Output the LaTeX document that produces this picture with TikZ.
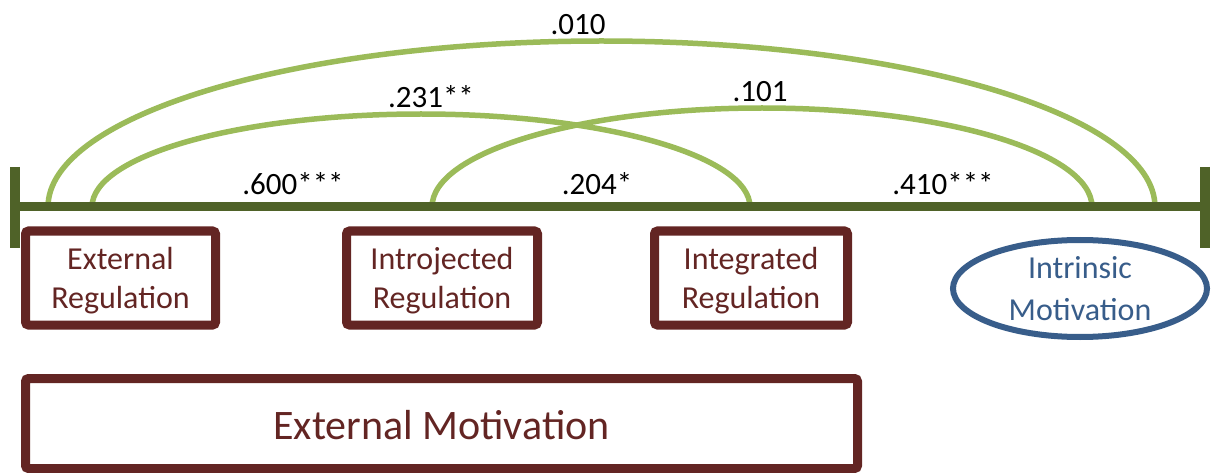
\documentclass[tikz,border=0pt]{standalone}
\usepackage{fontspec}
\setmainfont{Carlito}
\usetikzlibrary{shapes.geometric}
\definecolor{maroonc}{RGB}{99,37,35}
\definecolor{olivedark}{RGB}{79,98,40}
\definecolor{olivelight}{RGB}{155,187,89}
\definecolor{bluedark}{RGB}{56,93,138}
\begin{document}
\begin{tikzpicture}[x=1pt,y=1pt,
  regbox/.style={draw=maroonc, line width=9pt, rounded corners=3pt, inner sep=0pt},
  boxtext/.style={text=maroonc, align=center, inner sep=0pt, font=\fontsize{32}{39}\selectfont},
  arcline/.style={draw=olivelight, line width=5.5pt},
  axisline/.style={draw=olivedark, line width=9pt},
  tickline/.style={draw=olivedark, line width=10pt},
  lbl/.style={anchor=base, font=\fontsize{31}{37}\selectfont, inner sep=0pt, text=black}]
\useasboundingbox (0,0) rectangle (1213,472);
% axis end points
\coordinate (L) at (15,265);
\coordinate (R) at (1205,265);
\coordinate (Lt) at (15,305);
\coordinate (Lb) at (15,224);
\coordinate (Rt) at (1205,305);
\coordinate (Rb) at (1205,224);
% arc feet
\coordinate (a1) at (48,265);
\coordinate (b1) at (92,265);
\coordinate (c1) at (432,265);
% arcs
\draw[arcline] (a1) arc[start angle=180, end angle=0, x radius=553.5, y radius=166];
\draw[arcline] (b1) arc[start angle=180, end angle=0, x radius=329, y radius=93];
\draw[arcline] (c1) arc[start angle=180, end angle=0, x radius=330, y radius=99];
% axis
\draw[axisline] (L) -- (R);
\draw[tickline] (Lt) -- (Lb);
\draw[tickline] (Rt) -- (Rb);
% labels
\node[lbl] (l010) at (578,437) {.010};
\node[lbl] (l231) at (431,364) {.231**};
\node[lbl] (l101) at (760,370) {.101};
\node[lbl] (l600) at (293,277) {.600***};
\node[lbl] (l204) at (597,277) {.204*};
\node[lbl] (l410) at (943,277) {.410***};
% boxes
\node[regbox, minimum width=190pt, minimum height=94pt] (ext) at (120.5,194) {};
\node[boxtext] (extt) at ([yshift=-3pt]ext.center) {External\\Regulation};
\node[regbox, minimum width=191pt, minimum height=94pt] (intro) at (442,194) {};
\node[boxtext] (introt) at ([yshift=-3pt]intro.center) {Introjected\\Regulation};
\node[regbox, minimum width=193pt, minimum height=94pt] (integ) at (751,194) {};
\node[boxtext] (integt) at ([yshift=-3pt]integ.center) {Integrated\\Regulation};
\node[ellipse, draw=bluedark, line width=6pt, minimum width=254pt, minimum height=97pt, inner sep=0pt, text=bluedark, align=center, font=\fontsize{32}{42}\selectfont] (intr) at (1080,183.5) {Intrinsic\\Motivation};
\node[regbox, minimum width=832pt, minimum height=90pt] (extm) at (441.5,48.5) {};
\node[boxtext, font=\fontsize{42}{50}\selectfont] (extmt) at ([yshift=-2pt]extm.center) {External Motivation};
\end{tikzpicture}
\end{document}
